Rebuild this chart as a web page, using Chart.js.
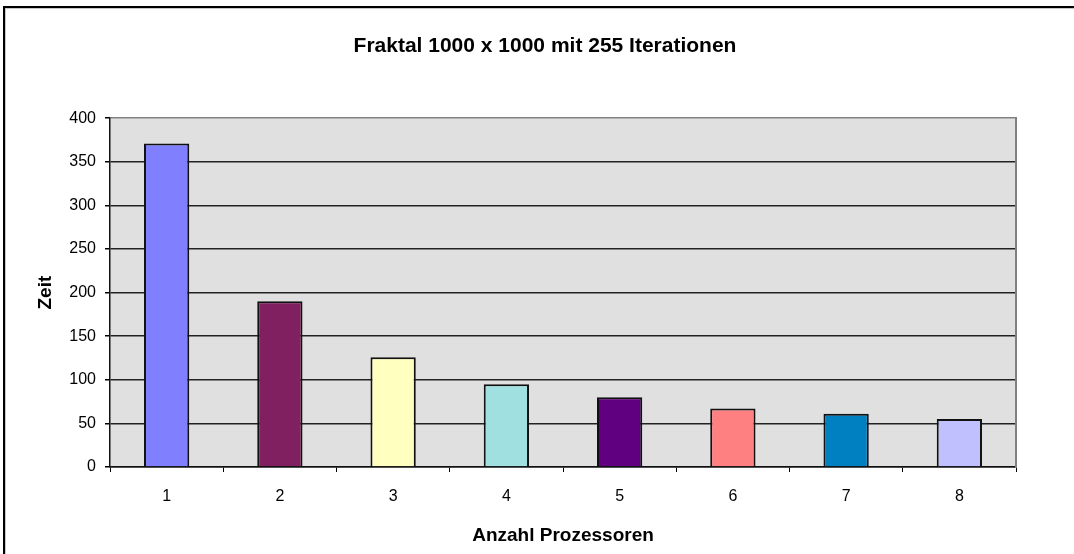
<!DOCTYPE html>
<html>
<head>
<meta charset="utf-8">
<script src="https://cdn.jsdelivr.net/npm/chart.js@4/dist/chart.umd.min.js"></script>
<style>
  html, body { margin: 0; padding: 0; background: #fff; overflow: hidden; }
  #frame {
    position: absolute; left: 3px; top: 6px; width: 1200px; height: 700px;
    border-left: 2px solid #000; border-top: 2px solid #000;
    box-shadow: inset 1px 1px 0 #c8c8c8;
  }
  #chart { position: absolute; left: 0; top: 0; }
</style>
</head>
<body>
<div id="frame"></div>
<canvas id="chart" width="1074" height="554"></canvas>
<script>
// Processors vs. time
const categories = ['1', '2', '3', '4', '5', '6', '7', '8'];
const zeitValues = [371, 190, 126, 95, 80, 67, 61, 55];
const barColors = ['#8080FF', '#802060', '#FFFFC0', '#A0E0E0', '#600080', '#FF8080', '#0080C0', '#C0C0FF'];
const yTicks = [0, 50, 100, 150, 200, 250, 300, 350, 400];

const FONT = "'Liberation Sans', Arial, sans-serif";

// gray plot background like the Excel original
const plotBackground = {
    id: 'plotBackground',
    beforeDraw(chart) {
        const { ctx, chartArea: a } = chart;
        ctx.save();
        ctx.fillStyle = '#e0e0e0';
        ctx.fillRect(a.left, a.top, a.right - a.left, a.bottom - a.top);
        ctx.restore();
    }
};

new Chart(document.getElementById('chart'), {
    type: 'bar',
    data: {
        labels: categories,
        datasets: [{
            label: 'Zeit',
            data: zeitValues,
            backgroundColor: barColors,
            borderColor: '#111',
            borderWidth: 2,
            barPercentage: 0.4,
            categoryPercentage: 1
        }]
    },
    options: {
        responsive: false,
        animation: false,
        layout: { padding: { left: 16, right: 0, top: 0, bottom: 0 } },
        plugins: {
            legend: { display: false },
            tooltip: { enabled: false },
            title: {
                display: true,
                text: 'Fraktal 1000 x 1000 mit 255 Iterationen',
                color: '#000',
                font: { family: FONT, size: 21, weight: 'bold' },
                padding: { top: 34, bottom: 59 }
            }
        },
        scales: {
            x: {
                grid: { drawOnChartArea: false, drawTicks: true, tickLength: 5, tickColor: '#000', offset: true },
                border: { color: '#111', width: 1.5 },
                ticks: { color: '#000', padding: 15, font: { family: FONT, size: 16 } },
                title: {
                    display: true,
                    text: 'Anzahl Prozessoren',
                    color: '#000',
                    font: { family: FONT, size: 19, weight: 'bold' },
                    padding: { top: 0, bottom: 7 }
                },
                afterFit(s) { s.height = 87; }
            },
            y: {
                min: 0,
                max: 400,
                afterBuildTicks(s) { s.ticks = yTicks.map(v => ({ value: v })); },
                grid: {
                    color: c => (c.tick && c.tick.value === 400 ? '#808080' : '#222'),
                    lineWidth: 1.5,
                    tickLength: 5,
                    tickColor: '#000'
                },
                border: { color: '#111', width: 1.5 },
                ticks: { color: '#000', padding: 9, font: { family: FONT, size: 16 } },
                title: {
                    display: true,
                    text: 'Zeit',
                    color: '#000',
                    font: { family: FONT, size: 19, weight: 'bold' },
                    padding: { top: 18, bottom: 0 }
                },
                afterFit(s) { s.width = 94; }
            },
            yRight: {
                position: 'right',
                min: 0,
                max: 400,
                grid: { display: false },
                ticks: { display: false },
                border: { color: '#808080', width: 2 },
                afterFit(s) { s.width = 58; }
            }
        }
    },
    plugins: [plotBackground]
});
</script>
</body>
</html>
